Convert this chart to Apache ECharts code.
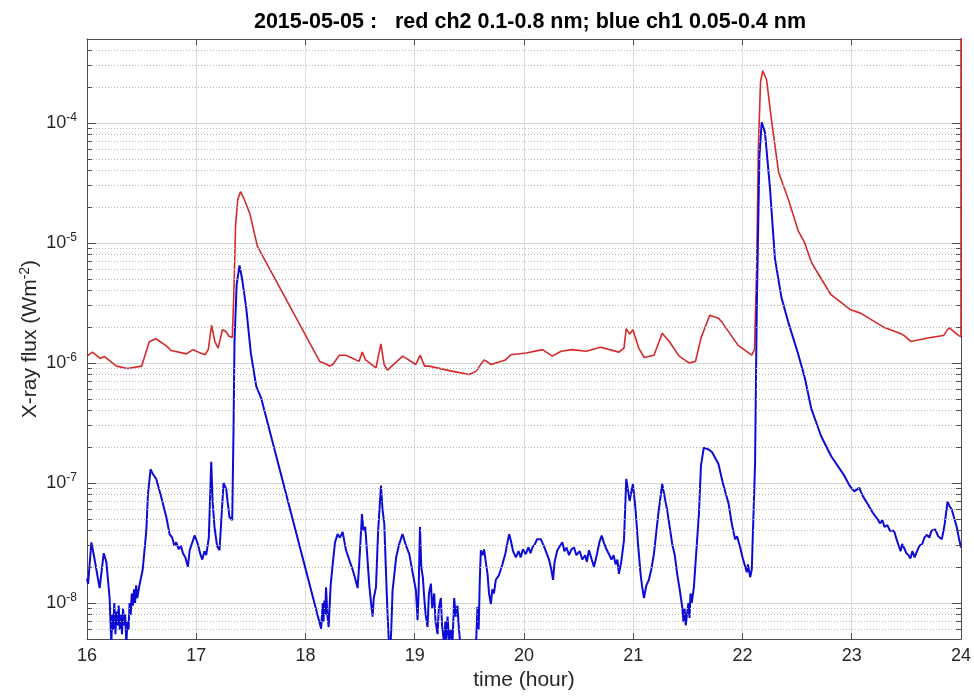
<!DOCTYPE html>
<html>
<head>
<meta charset="utf-8">
<title>X-ray flux 2015-05-05</title>
<script src="https://cdn.jsdelivr.net/npm/echarts@6/dist/echarts.min.js"></script>
<style>
  html, body { margin: 0; padding: 0; background: #fff; }
  #chart { width: 974px; height: 696px; }
</style>
</head>
<body>
<div id="chart"></div>
<script>
// [hour, flux W/m^2]
// red = ch2 0.1-0.8 nm
var redFlux = [
  [16.00, 1.14e-6], [16.05, 1.23e-6], [16.12, 1.09e-6], [16.16, 1.13e-6], [16.27, 0.94e-6],
  [16.37, 0.90e-6], [16.50, 0.94e-6], [16.57, 1.50e-6], [16.63, 1.59e-6], [16.73, 1.38e-6],
  [16.77, 1.27e-6], [16.91, 1.19e-6], [16.97, 1.29e-6], [17.02, 1.23e-6], [17.08, 1.17e-6],
  [17.11, 1.29e-6], [17.14, 2.06e-6], [17.17, 1.51e-6], [17.20, 1.33e-6], [17.24, 1.89e-6],
  [17.27, 1.83e-6], [17.30, 1.67e-6], [17.33, 1.63e-6], [17.345, 4.0e-6], [17.36, 1.4e-5],
  [17.38, 2.3e-5], [17.405, 2.67e-5], [17.44, 2.3e-5], [17.49, 1.76e-5], [17.56, 9.35e-6],
  [18.13, 1.03e-6], [18.19, 0.98e-6], [18.22, 0.94e-6], [18.25, 0.97e-6], [18.31, 1.16e-6],
  [18.37, 1.16e-6], [18.49, 1.03e-6], [18.52, 1.23e-6], [18.55, 1.06e-6], [18.645, 0.91e-6],
  [18.69, 1.44e-6], [18.72, 0.97e-6], [18.75, 0.87e-6], [18.89, 1.14e-6], [19.01, 0.97e-6],
  [19.05, 1.16e-6], [19.09, 0.94e-6], [19.13, 0.94e-6], [19.35, 0.85e-6], [19.50, 0.80e-6],
  [19.56, 0.85e-6], [19.635, 1.06e-6], [19.70, 0.97e-6], [19.83, 1.06e-6], [19.88, 1.17e-6],
  [20.02, 1.21e-6], [20.17, 1.29e-6], [20.26, 1.14e-6], [20.34, 1.25e-6], [20.44, 1.29e-6],
  [20.57, 1.25e-6], [20.70, 1.35e-6], [20.87, 1.23e-6], [20.915, 1.33e-6], [20.936, 1.93e-6],
  [20.967, 1.74e-6], [20.997, 1.89e-6], [21.05, 1.33e-6], [21.10, 1.11e-6], [21.19, 1.16e-6],
  [21.265, 1.77e-6], [21.33, 1.51e-6], [21.42, 1.14e-6], [21.51, 1.00e-6], [21.57, 1.03e-6],
  [21.62, 1.61e-6], [21.70, 2.50e-6], [21.78, 2.36e-6], [21.81, 2.2e-6], [21.96, 1.40e-6],
  [22.085, 1.16e-6], [22.11, 1.30e-6], [22.13, 6.4e-6], [22.145, 6.0e-5], [22.165, 2.2e-4],
  [22.185, 2.72e-4], [22.22, 2.3e-4], [22.266, 1.05e-4], [22.33, 3.9e-5], [22.42, 2.3e-5],
  [22.51, 1.26e-5], [22.57, 1.0e-5], [22.63, 6.9e-6], [22.81, 3.7e-6], [22.99, 2.77e-6],
  [23.08, 2.6e-6], [23.30, 1.97e-6], [23.45, 1.75e-6], [23.48, 1.69e-6], [23.54, 1.51e-6],
  [23.72, 1.63e-6], [23.84, 1.69e-6], [23.89, 1.97e-6], [23.98, 1.69e-6], [24.00, 1.65e-6],
  [24.00, 1e-2]
];

// blue = ch1 0.05-0.4 nm
var blueFlux = [
  [16.00, 1.6e-8], [16.01, 1.44e-8], [16.04, 3.2e-8], [16.07, 2.3e-8], [16.10, 1.6e-8],
  [16.116, 1.33e-8], [16.153, 2.6e-8], [16.177, 2.2e-8], [16.207, 1.1e-8], [16.215, 7e-9],
  [16.223, 4.5e-9], [16.23, 8e-9], [16.24, 6e-9], [16.25, 1.0e-8], [16.26, 5.5e-9],
  [16.27, 8.5e-9], [16.28, 6.5e-9], [16.29, 9.5e-9], [16.30, 6e-9], [16.31, 8e-9],
  [16.32, 5.5e-9], [16.33, 9e-9], [16.34, 6.5e-9], [16.35, 8e-9], [16.36, 4.5e-9],
  [16.37, 7e-9], [16.38, 6e-9], [16.39, 1.0e-8], [16.40, 8e-9], [16.41, 1.2e-8],
  [16.42, 9.5e-9], [16.43, 1.3e-8], [16.44, 1.0e-8], [16.45, 1.4e-8], [16.46, 1.1e-8],
  [16.48, 1.4e-8], [16.51, 1.9e-8], [16.543, 4.0e-8], [16.558, 8.1e-8], [16.582, 1.3e-7],
  [16.60, 1.2e-7], [16.634, 1.08e-7], [16.68, 7.6e-8], [16.726, 5.2e-8], [16.756, 3.75e-8],
  [16.78, 3.5e-8], [16.80, 3.0e-8], [16.817, 3.2e-8], [16.84, 2.8e-8], [16.86, 3.0e-8],
  [16.878, 2.6e-8], [16.90, 2.4e-8], [16.923, 2.0e-8], [16.94, 2.75e-8], [16.985, 3.65e-8],
  [17.015, 3.1e-8], [17.035, 2.6e-8], [17.055, 2.3e-8], [17.075, 2.7e-8], [17.091, 2.5e-8],
  [17.115, 3.5e-8], [17.137, 1.5e-7], [17.15, 7e-8], [17.167, 4.3e-8], [17.19, 3.0e-8],
  [17.213, 2.75e-8], [17.235, 6e-8], [17.25, 1.0e-7], [17.274, 8.9e-8], [17.304, 5.2e-8],
  [17.329, 4.9e-8], [17.341, 2.7e-7], [17.35, 1.5e-6], [17.37, 4.5e-6], [17.396, 6.5e-6],
  [17.42, 5.0e-6], [17.457, 2.9e-6], [17.50, 1.2e-6], [17.549, 6.4e-7], [17.594, 5.1e-7],
  [18.143, 6.1e-9], [18.158, 1.0e-8], [18.165, 7e-9], [18.173, 1.05e-8], [18.18, 8e-9],
  [18.188, 1.35e-8], [18.20, 8e-9], [18.212, 6.3e-9], [18.23, 1.4e-8], [18.249, 2.1e-8],
  [18.27, 3.2e-8], [18.294, 3.75e-8], [18.315, 3.5e-8], [18.34, 3.9e-8], [18.371, 2.75e-8],
  [18.40, 2.3e-8], [18.431, 1.9e-8], [18.455, 1.6e-8], [18.477, 1.33e-8], [18.49, 2e-8],
  [18.517, 5.5e-8], [18.53, 4e-8], [18.547, 4.3e-8], [18.584, 1.4e-8], [18.60, 1.0e-8],
  [18.614, 7.7e-9], [18.625, 1.1e-8], [18.645, 1.35e-8], [18.665, 4e-8], [18.691, 9.5e-8],
  [18.705, 6e-8], [18.721, 4.6e-8], [18.735, 2e-8], [18.751, 8.1e-9], [18.762, 5e-9],
  [18.773, 3.5e-9], [18.785, 6e-9], [18.797, 1.27e-8], [18.83, 2.4e-8], [18.858, 3.1e-8],
  [18.888, 3.75e-8], [18.92, 3.0e-8], [18.95, 2.55e-8], [18.98, 1.8e-8], [19.011, 1.27e-8],
  [19.026, 7.2e-9], [19.035, 1.2e-8], [19.048, 4.3e-8], [19.06, 2.0e-8], [19.075, 1.6e-8],
  [19.087, 1.1e-8], [19.10, 8e-9], [19.117, 6.3e-9], [19.13, 1.2e-8], [19.148, 1.45e-8],
  [19.16, 9e-9], [19.178, 1.2e-8], [19.19, 7e-9], [19.209, 5.5e-9], [19.22, 9e-9],
  [19.239, 1.1e-8], [19.25, 6.5e-9], [19.27, 4.5e-9], [19.28, 7e-9], [19.29, 5e-9],
  [19.30, 7.7e-9], [19.315, 4.8e-9], [19.33, 6e-9], [19.345, 4.5e-9], [19.361, 1.1e-8],
  [19.375, 7.7e-9], [19.39, 9.5e-9], [19.405, 6e-9], [19.422, 4e-9], [19.45, 3e-9],
  [19.50, 3e-9], [19.559, 4e-9], [19.574, 9.3e-9], [19.585, 6e-9], [19.595, 1.5e-8],
  [19.605, 2.75e-8], [19.62, 2.5e-8], [19.635, 2.8e-8], [19.65, 2.2e-8], [19.666, 1.75e-8],
  [19.68, 1.2e-8], [19.697, 9.8e-9], [19.71, 1.3e-8], [19.725, 1.2e-8], [19.742, 1.56e-8],
  [19.77, 1.7e-8], [19.803, 2.1e-8], [19.83, 2.6e-8], [19.864, 3.75e-8], [19.88, 3.3e-8],
  [19.90, 2.7e-8], [19.925, 2.4e-8], [19.95, 2.7e-8], [19.97, 2.4e-8], [19.99, 2.8e-8],
  [20.016, 2.55e-8], [20.04, 2.9e-8], [20.06, 2.6e-8], [20.077, 2.9e-8], [20.10, 3.1e-8],
  [20.12, 3.4e-8], [20.154, 3.4e-8], [20.18, 3.0e-8], [20.20, 2.7e-8], [20.229, 2.3e-8],
  [20.25, 1.9e-8], [20.266, 1.56e-8], [20.28, 2.2e-8], [20.305, 2.75e-8], [20.33, 3.0e-8],
  [20.351, 3.2e-8], [20.37, 2.7e-8], [20.39, 2.9e-8], [20.412, 2.5e-8], [20.435, 2.8e-8],
  [20.458, 2.9e-8], [20.48, 2.5e-8], [20.51, 2.7e-8], [20.534, 2.3e-8], [20.56, 2.5e-8],
  [20.575, 2.2e-8], [20.595, 2.75e-8], [20.62, 2.3e-8], [20.641, 2.0e-8], [20.67, 2.6e-8],
  [20.69, 3.2e-8], [20.711, 3.65e-8], [20.73, 3.2e-8], [20.755, 2.8e-8], [20.778, 2.55e-8],
  [20.80, 2.3e-8], [20.82, 2.5e-8], [20.839, 2.1e-8], [20.855, 2.3e-8], [20.869, 1.75e-8],
  [20.89, 2.2e-8], [20.915, 3.3e-8], [20.936, 1.08e-7], [20.967, 7.1e-8], [20.997, 9.8e-8],
  [21.022, 5.9e-8], [21.045, 3e-8], [21.067, 1.75e-8], [21.08, 1.4e-8], [21.098, 1.1e-8],
  [21.12, 1.4e-8], [21.143, 1.56e-8], [21.165, 1.9e-8], [21.189, 2.55e-8], [21.229, 5.5e-8],
  [21.265, 9.8e-8], [21.311, 5.9e-8], [21.357, 3.1e-8], [21.38, 2.5e-8], [21.402, 1.75e-8],
  [21.425, 1.3e-8], [21.448, 9.3e-9], [21.46, 7e-9], [21.47, 9e-9], [21.48, 6.5e-9],
  [21.494, 6.3e-9], [21.505, 1.0e-8], [21.515, 7.5e-9], [21.524, 1.2e-8], [21.535, 1.0e-8],
  [21.555, 1.35e-8], [21.575, 2.5e-8], [21.601, 5.5e-8], [21.62, 1.4e-7], [21.646, 1.97e-7],
  [21.69, 1.9e-7], [21.722, 1.8e-7], [21.78, 1.44e-7], [21.82, 1.0e-7], [21.873, 6.7e-8],
  [21.90, 4.7e-8], [21.915, 4.0e-8], [21.933, 3.4e-8], [21.95, 3.6e-8], [21.979, 2.9e-8],
  [22.00, 2.4e-8], [22.025, 2.0e-8], [22.04, 1.8e-8], [22.05, 2.1e-8], [22.07, 1.64e-8],
  [22.085, 1.9e-8], [22.10, 1.85e-8], [22.115, 1.44e-7], [22.131, 3.0e-6], [22.155, 5.3e-5],
  [22.176, 1.01e-4], [22.206, 8.3e-5], [22.251, 2.9e-5], [22.297, 7.4e-6], [22.357, 3.5e-6],
  [22.418, 2.2e-6], [22.508, 1.2e-6], [22.569, 7.6e-7], [22.63, 4.15e-7], [22.72, 2.45e-7],
  [22.812, 1.67e-7], [22.932, 1.15e-7], [22.98, 9.5e-8], [23.023, 8.5e-8], [23.069, 9.1e-8],
  [23.10, 7.8e-8], [23.145, 6.7e-8], [23.19, 5.7e-8], [23.235, 5.0e-8], [23.26, 4.6e-8],
  [23.28, 4.9e-8], [23.30, 4.3e-8], [23.326, 4.45e-8], [23.35, 4.0e-8], [23.387, 4.0e-8],
  [23.41, 3.4e-8], [23.43, 3.0e-8], [23.447, 2.7e-8], [23.462, 3.1e-8], [23.477, 2.9e-8],
  [23.50, 2.6e-8], [23.52, 2.5e-8], [23.537, 2.35e-8], [23.555, 2.7e-8], [23.575, 2.4e-8],
  [23.598, 2.7e-8], [23.62, 3.0e-8], [23.645, 3.1e-8], [23.665, 3.5e-8], [23.689, 3.7e-8],
  [23.71, 3.5e-8], [23.73, 4.0e-8], [23.765, 4.1e-8], [23.79, 3.6e-8], [23.825, 3.4e-8],
  [23.85, 4.5e-8], [23.877, 7.0e-8], [23.895, 6.4e-8], [23.916, 6.0e-8], [23.94, 5.0e-8],
  [23.961, 4.3e-8], [23.98, 3.5e-8], [24.00, 2.9e-8]
];

var xRange = [16, 24];
var yRange = [5e-9, 5e-4];
var decades = [1e-9, 1e-8, 1e-7, 1e-6, 1e-5, 1e-4];
var minorSteps = [2, 3, 4, 5, 6, 7, 8, 9];

var textColor = '#262626';
var axisColor = '#4d4d4d';

// minor log grid values (2..9 x decade) inside the range
var minorVals = [];
decades.forEach(function (d) {
  minorSteps.forEach(function (k) {
    var v = k * d;
    if (v > yRange[0] * 1.001 && v < yRange[1] * 0.999) minorVals.push(v);
  });
});

var minorGrid = minorVals.map(function (v) {
  return [{ coord: [xRange[0], v] }, { coord: [xRange[1], v] }];
});
var tickLen = 0.045; // hours
var minorTicks = [];
minorVals.forEach(function (v) {
  minorTicks.push([{ coord: [xRange[0], v] }, { coord: [xRange[0] + tickLen, v] }]);
  minorTicks.push([{ coord: [xRange[1] - tickLen, v] }, { coord: [xRange[1], v] }]);
});

function powLabel(v) {
  var e = Math.log10(v);
  var r = Math.round(e);
  if (Math.abs(e - r) > 1e-6) return '';
  return '{b|10}{s|' + r + '}';
}

var supRich = {
  b: { fontSize: 18, color: textColor, fontFamily: 'Liberation Sans' },
  s: { fontSize: 12, color: textColor, fontFamily: 'Liberation Sans', padding: [0, 0, 11, 0] }
};

var chart = echarts.init(document.getElementById('chart'));

chart.setOption({
  animation: false,
  backgroundColor: '#fff',
  title: {
    text: '2015-05-05 :   red ch2 0.1-0.8 nm; blue ch1 0.05-0.4 nm',
    left: 525,
    textAlign: 'center',
    top: 6,
    textStyle: { fontSize: 21.5, fontWeight: 'bold', color: '#000', fontFamily: 'Liberation Sans' }
  },
  grid: { left: 87, right: 11, top: 39, bottom: 55 },
  xAxis: [{
    type: 'value',
    min: xRange[0],
    max: xRange[1],
    interval: 1,
    name: 'time (hour)',
    nameLocation: 'middle',
    nameGap: 27,
    nameTextStyle: { fontSize: 21, color: textColor, fontFamily: 'Liberation Sans' },
    axisLine: { show: true, lineStyle: { color: axisColor, width: 1 } },
    axisTick: { show: true, inside: true, length: 6, lineStyle: { color: axisColor } },
    axisLabel: { fontSize: 18, color: textColor, margin: 8, fontFamily: 'Liberation Sans' },
    splitLine: { show: true, lineStyle: { color: '#dcdcdc', width: 1 } }
  }, {
    type: 'value',
    position: 'top',
    min: xRange[0],
    max: xRange[1],
    interval: 1,
    axisLine: { show: true, lineStyle: { color: axisColor, width: 1 } },
    axisTick: { show: true, inside: true, length: 6, lineStyle: { color: axisColor } },
    axisLabel: { show: false },
    splitLine: { show: false }
  }],
  yAxis: [{
    type: 'log',
    logBase: 10,
    min: yRange[0],
    max: yRange[1],
    name: '{n|X-ray flux (Wm}{s|-2}{n|)}',
    nameLocation: 'middle',
    nameGap: 45,
    nameMoveOverlap: false,
    nameTextStyle: {
      rich: {
        n: { fontSize: 21, color: textColor, fontFamily: 'Liberation Sans' },
        s: { fontSize: 14, color: textColor, fontFamily: 'Liberation Sans', padding: [0, 0, 10, 0] }
      }
    },
    axisLine: { show: true, lineStyle: { color: axisColor, width: 1 } },
    axisTick: { show: true, inside: true, length: 9, lineStyle: { color: axisColor } },
    axisLabel: { formatter: powLabel, rich: supRich, margin: 10 },
    splitLine: { show: true, lineStyle: { color: '#d6d6d6', width: 1 } }
  }, {
    type: 'log',
    logBase: 10,
    position: 'right',
    min: yRange[0],
    max: yRange[1],
    axisLine: { show: true, lineStyle: { color: axisColor, width: 1 } },
    axisTick: { show: true, inside: true, length: 9, lineStyle: { color: axisColor } },
    axisLabel: { show: false },
    splitLine: { show: false }
  }],
  series: [{
    name: 'minor grid',
    type: 'line',
    data: [],
    z: 1,
    silent: true,
    markLine: {
      silent: true,
      symbol: ['none', 'none'],
      label: { show: false },
      lineStyle: { color: '#b4b4b4', type: [1, 2], width: 1 },
      data: minorGrid
    }
  }, {
    name: 'minor ticks',
    type: 'line',
    data: [],
    z: 3,
    silent: true,
    markLine: {
      silent: true,
      symbol: ['none', 'none'],
      label: { show: false },
      lineStyle: { color: axisColor, type: 'solid', width: 1 },
      data: minorTicks
    }
  }, {
    name: 'ch2',
    type: 'line',
    data: redFlux,
    showSymbol: false,
    z: 2,
    lineStyle: { color: '#d42a2a', width: 1.6 },
    itemStyle: { color: '#d42a2a' }
  }, {
    name: 'ch1',
    type: 'line',
    data: blueFlux,
    showSymbol: false,
    z: 2,
    lineStyle: { color: '#0c0cd6', width: 2 },
    itemStyle: { color: '#0c0cd6' }
  }]
});
</script>
</body>
</html>
